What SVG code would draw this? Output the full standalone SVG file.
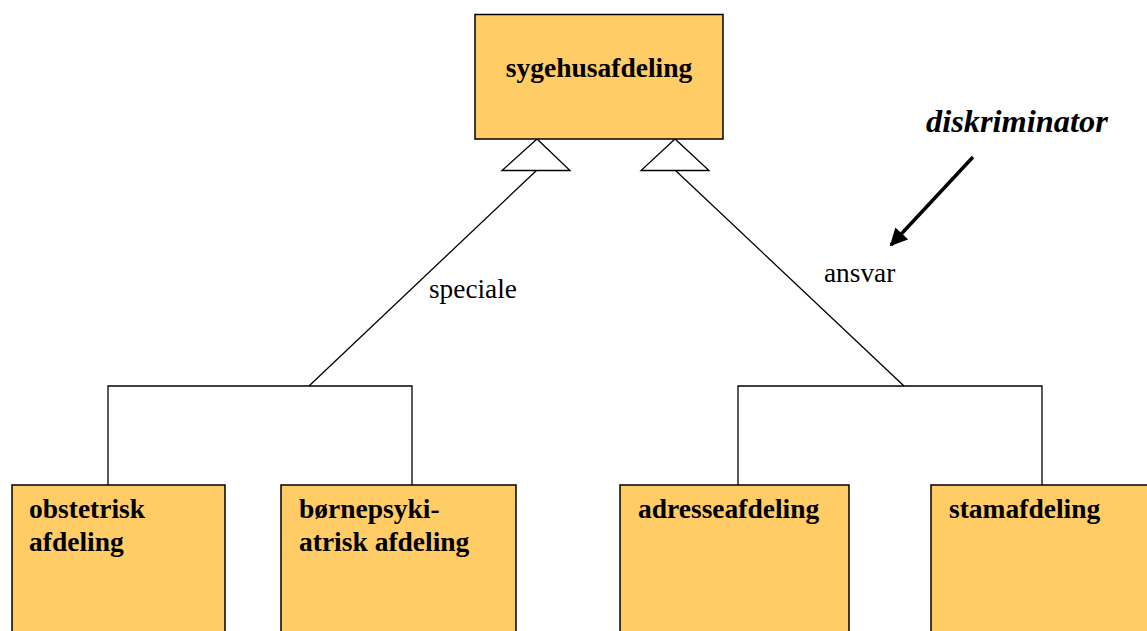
<svg xmlns="http://www.w3.org/2000/svg" width="1147" height="631" viewBox="0 0 1147 631">
  <style>
    .box { fill: #FFCC66; stroke: #000; stroke-width: 1.5; }
    .name { font-family: "Liberation Serif", "Times New Roman", serif; font-weight: bold; font-size: 27.5px; fill: #000; }
    .line { fill: none; stroke: #000; stroke-width: 1.3; }
    .gen { fill: #fff; stroke: #000; stroke-width: 1.3; }
    .label { font-family: "Liberation Serif", "Times New Roman", serif; font-size: 27.3px; fill: #000; }
    .note { font-family: "Liberation Serif", "Times New Roman", serif; font-size: 32.4px; font-weight: bold; font-style: italic; fill: #000; }
  </style>
  <defs>
    <marker id="arrow" viewBox="0 0 10 10" refX="9" refY="5" markerWidth="5.5" markerHeight="5" orient="auto" markerUnits="strokeWidth">
      <path d="M0,0 L10,5 L0,10 z" fill="#000"/>
    </marker>
  </defs>

  <rect width="1147" height="631" fill="#fff"/>

  <!-- generalisation connectors -->
  <g id="connectors">
    <polyline class="line" points="108,485 108,386 412,386 412,485"/>
    <line class="line" x1="537" y1="170" x2="309" y2="386"/>
    <polyline class="line" points="738,485 738,386 1042,386 1042,485"/>
    <line class="line" x1="675" y1="170" x2="904" y2="386"/>
    <polygon class="gen" points="537,139 502,170.5 570,170.5"/>
    <polygon class="gen" points="675,139 641,170.5 709,170.5"/>
    <text class="label" x="429" y="298">speciale</text>
    <text class="label" x="824" y="282">ansvar</text>
  </g>

  <g id="sygehusafdeling">
    <rect class="box" x="475" y="14.5" width="248" height="124.5"/>
    <text class="name" x="599" y="77" text-anchor="middle">sygehusafdeling</text>
  </g>

  <g id="obstetrisk">
    <rect class="box" x="12" y="485" width="213" height="160"/>
    <text class="name" x="29" y="518">obstetrisk</text>
    <text class="name" x="29" y="551">afdeling</text>
  </g>

  <g id="boernepsykiatrisk">
    <rect class="box" x="281" y="485" width="235" height="160"/>
    <text class="name" x="299" y="518">børnepsyki-</text>
    <text class="name" x="299" y="551">atrisk afdeling</text>
  </g>

  <g id="adresseafdeling">
    <rect class="box" x="620" y="485" width="229" height="160"/>
    <text class="name" x="638" y="518">adresseafdeling</text>
  </g>

  <g id="stamafdeling">
    <rect class="box" x="931" y="485" width="230" height="160"/>
    <text class="name" x="949" y="518">stamafdeling</text>
  </g>

  <g id="diskriminator">
    <text class="note" x="926" y="132">diskriminator</text>
    <line x1="973" y1="157" x2="891" y2="245" stroke="#000" stroke-width="3.5" marker-end="url(#arrow)"/>
  </g>
</svg>
